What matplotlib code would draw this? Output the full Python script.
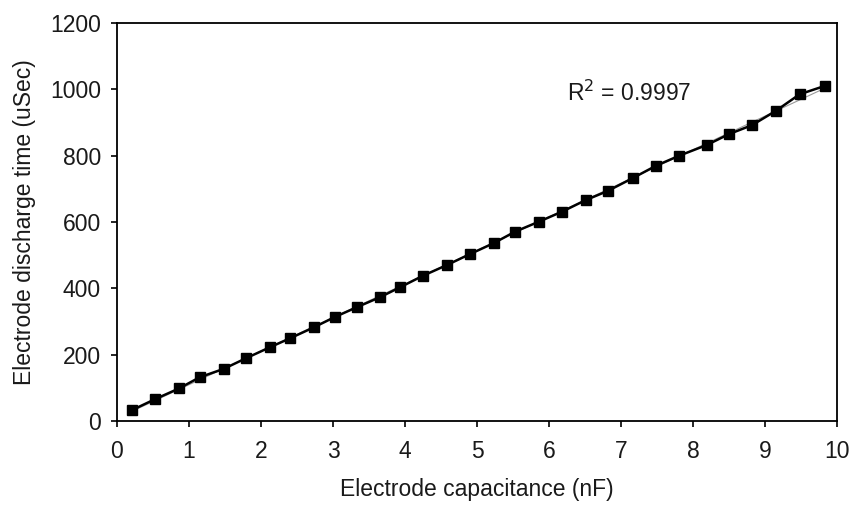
import numpy as np
import matplotlib
matplotlib.use("Agg")
import matplotlib.pyplot as plt

plt.rcParams['font.family'] = ['Liberation Sans', 'DejaVu Sans']

# Electrode capacitance (nF) and measured discharge time (uSec)
capacitance = [0.21, 0.53, 0.86, 1.15, 1.48, 1.79, 2.12, 2.40, 2.73, 3.03,
               3.33, 3.65, 3.93, 4.25, 4.58, 4.90, 5.23, 5.53, 5.86, 6.18,
               6.51, 6.82, 7.16, 7.49, 7.81, 8.19, 8.50, 8.82, 9.15, 9.48, 9.84]
discharge_time = [33, 66, 98, 132, 157, 189, 222, 249, 282, 314,
                  343, 373, 403, 438, 470, 503, 536, 571, 601, 631,
                  666, 694, 732, 770, 800, 832, 865, 892, 935, 985, 1011]

x_ticks = [0, 1, 2, 3, 4, 5, 6, 7, 8, 9, 10]
y_ticks = [0, 200, 400, 600, 800, 1000, 1200]

FS = 16.5

fig = plt.figure(figsize=(8.53, 5.05), dpi=100)
ax = fig.add_axes([117 / 853, 1 - 421 / 505, 720 / 853, 398 / 505])

x = np.array(capacitance)
y = np.array(discharge_time)

# linear trendline
coef = np.polyfit(x, y, 1)
xf = np.array([x.min(), x.max()])
ax.plot(xf, np.polyval(coef, xf), color='#9a9a9a', lw=0.8, zorder=2)

ax.plot(x, y, color='black', lw=1.8, marker='s', markersize=6.5,
        markerfacecolor='black', markeredgecolor='black', zorder=3)

ax.text(6.25, 989, r'R$^2$ = 0.9997', fontsize=FS, ha='left', va='center',
        color='#1a1a1a')

ax.set_xlim(0, 10)
ax.set_ylim(0, 1200)
ax.set_xticks(x_ticks)
ax.set_yticks(y_ticks)
ax.tick_params(direction='out', length=4.5, width=1.2, labelsize=FS,
               color='black', labelcolor='#1a1a1a')
ax.tick_params(axis='x', pad=9)
ax.tick_params(axis='y', pad=7)
for s in ax.spines.values():
    s.set_linewidth(1.3)

ax.set_xlabel('Electrode capacitance (nF)', fontsize=FS, labelpad=11,
              color='#1a1a1a')
ax.set_ylabel('Electrode discharge time (uSec)', fontsize=FS, labelpad=10,
              color='#1a1a1a')

fig.savefig('out.png', dpi=100)
